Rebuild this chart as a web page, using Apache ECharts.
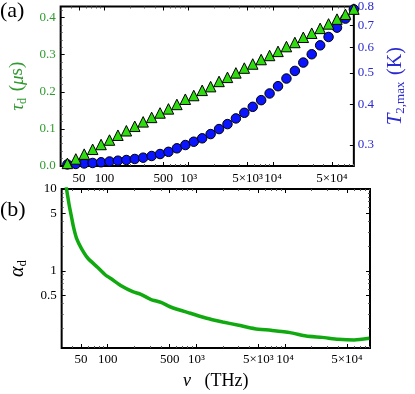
<!DOCTYPE html>
<html><head><meta charset="utf-8">
<script src="https://cdn.jsdelivr.net/npm/echarts@6/dist/echarts.min.js"></script>
<style>html,body{margin:0;padding:0;background:#fff}#c{width:415px;height:394px}</style>
</head><body><div id="c"></div>
<script>
// ---- data (frequency in THz) ----
const nu = [36.3,45.7,57.5,72.4,91.2,114.8,144.5,182,229,288,363,457,575,724,912,1148,1445,1820,2291,2884,3631,4571,5754,7244,9120,11482,14454,18197,22909,28840,36308,45709,57544,72444,91201];
const tauD = [0.007,0.019,0.032,0.045,0.058,0.070,0.083,0.095,0.107,0.119,0.131,0.143,0.154,0.166,0.180,0.190,0.204,0.214,0.228,0.239,0.251,0.264,0.275,0.287,0.298,0.309,0.322,0.333,0.347,0.358,0.371,0.383,0.396,0.409,0.423];
const t2max = [0.2615,0.2624,0.2633,0.2642,0.2655,0.2670,0.2685,0.2698,0.2718,0.2743,0.2776,0.2815,0.2859,0.2931,0.3000,0.3071,0.3146,0.3242,0.3359,0.3479,0.3622,0.3769,0.3932,0.4122,0.4322,0.4550,0.4804,0.5070,0.5379,0.5705,0.6077,0.6447,0.6888,0.7342,0.7839];
const alphaNu = [34.0,36.7,38.3,41.0,44.5,50.4,59.7,76.6,94.3,111.5,143.3,191.5,236.4,303.5,405.8,521,859.6,1306,1984,3005,4563,6933,11440,17330,26320,39970,60550,89720];
const alphaD = [10.6,6.38,5.05,3.47,2.50,1.89,1.43,1.11,0.894,0.792,0.656,0.559,0.520,0.452,0.411,0.361,0.305,0.265,0.239,0.218,0.198,0.189,0.177,0.161,0.155,0.147,0.144,0.151];

// ---- ticks ----
const xTickValues = [50,100,500,1000,5000,10000,50000];
const xTickLabels = ['50','100','500','10³','5×10³','10⁴','5×10⁴'];
const xMinorValues = [40,60,70,80,90,200,300,400,600,700,800,900,2000,3000,4000,6000,7000,8000,9000,20000,30000,40000,60000,70000,80000,90000];
const tauTicks = [0,0.1,0.2,0.3,0.4];
const t2Ticks = [0.3,0.4,0.5,0.6,0.7,0.8];
const t2TickLabels = ['0.3','0.4','0.5','0.6','0.7','0.8'];
const alphaTicks = [0.5,1,5,10];
const alphaTickLabels = ['0.5','1','5','10'];
const alphaMinor = [0.2,0.3,0.4,0.6,0.7,0.8,0.9,2,3,4,6,7,8,9];

const X_MIN = 30.2, X_MAX = 91201;
const TAU_MIN = 0, TAU_MAX = 0.43;
const T2_MIN = 0.2586, T2_MAX = 0.8;
const A_MIN = 0.115, A_MAX = 10;

const L = Math.log10;
const FONT = 'Liberation Serif';
const GREEN_TXT = '#2f9a2f', BLUE_TXT = '#2a2ad0';

function lab(vals, labels){
  return function(v){
    for (let i=0;i<vals.length;i++){ if (Math.abs(L(vals[i])-v) < 1e-6) return labels[i]; }
    return '';
  };
}
const xFmt = lab(xTickValues, xTickLabels);
const NOLINE = {show:false, onZero:false};

function xAxes(grid, withLabels, name){
  const base = {type:'value', gridIndex:grid, min:L(X_MIN), max:L(X_MAX),
    axisLine:NOLINE, splitLine:{show:false}};
  return [
    Object.assign({}, base, {position:'bottom',
      axisTick:{show:true, inside:true, length:4, customValues:xTickValues.map(L), lineStyle:{color:'#000'}},
      axisLabel:{show:withLabels, customValues:xTickValues.map(L), formatter:xFmt, margin:grid===0?6:5,
        fontFamily:FONT, fontSize:13, color:'#000'},
      name:name||'', nameLocation:'middle', nameGap:24,
      nameTextStyle:{fontFamily:FONT, fontSize:18, color:'#000',
        rich:{i:{fontFamily:FONT, fontStyle:'italic', fontSize:18}, n:{fontFamily:FONT, fontSize:18}}}}),
    Object.assign({}, base, {position:'bottom',
      axisTick:{show:true, inside:true, length:2, customValues:xMinorValues.map(L), lineStyle:{color:'#555'}},
      axisLabel:{show:false}}),
    Object.assign({}, base, {position:'top',
      axisTick:{show:true, inside:true, length:4, customValues:xTickValues.map(L), lineStyle:{color:'#000'}},
      axisLabel:{show:false}}),
    Object.assign({}, base, {position:'top',
      axisTick:{show:true, inside:true, length:2, customValues:xMinorValues.map(L), lineStyle:{color:'#555'}},
      axisLabel:{show:false}})
  ];
}

const chart = echarts.init(document.getElementById('c'), null, {renderer:'canvas'});
chart.setOption({
  animation:false,
  backgroundColor:'#fff',
  grid:[
    {left:50, top:6, width:320, height:160, show:true, borderColor:'#000', borderWidth:2, backgroundColor:'transparent'},
    {left:50, top:189, width:320, height:159, show:true, borderColor:'#000', borderWidth:2, backgroundColor:'transparent'}
  ],
  xAxis: [].concat(xAxes(0,true), xAxes(1,true,'{i|ν}   {n|(THz)}')),
  yAxis:[
    {type:'value', gridIndex:0, position:'left', min:TAU_MIN, max:TAU_MAX, interval:0.1,
      axisLine:NOLINE, splitLine:{show:false},
      axisTick:{show:true, inside:true, length:4, lineStyle:{color:'#000'}},
      minorTick:{show:true, splitNumber:5, length:2, lineStyle:{color:'#555'}},
      axisLabel:{fontFamily:FONT, fontSize:13, color:GREEN_TXT, margin:5,
        formatter:function(v){return v.toFixed(1);}},
      name:'{t|τ}{s|d}  {n|(}{t|μ}{n|s)}', nameLocation:'middle', nameRotate:90, nameGap:29,
      nameTextStyle:{color:GREEN_TXT, rich:{
        t:{fontFamily:FONT, fontStyle:'italic', fontSize:19, color:GREEN_TXT},
        n:{fontFamily:FONT, fontSize:19, color:GREEN_TXT},
        s:{fontFamily:FONT, fontSize:12, color:GREEN_TXT, padding:[10,0,0,0]}}}},
    {type:'value', gridIndex:0, position:'right', min:L(T2_MIN), max:L(T2_MAX),
      axisLine:NOLINE, splitLine:{show:false},
      axisTick:{show:true, inside:true, length:4, customValues:t2Ticks.map(L), lineStyle:{color:'#000'}},
      axisLabel:{customValues:t2Ticks.map(L), formatter:lab(t2Ticks,t2TickLabels),
        fontFamily:FONT, fontSize:13, color:BLUE_TXT, margin:4},
      name:'{t|T}{s|2,max}  {n|(K)}', nameLocation:'middle', nameRotate:90, nameGap:30,
      nameTextStyle:{color:BLUE_TXT, rich:{
        t:{fontFamily:FONT, fontStyle:'italic', fontSize:21, color:BLUE_TXT},
        n:{fontFamily:FONT, fontSize:20, color:BLUE_TXT},
        s:{fontFamily:FONT, fontSize:13, color:BLUE_TXT, padding:[10,0,0,0]}}}},
    {type:'value', gridIndex:1, position:'left', min:L(A_MIN), max:L(A_MAX),
      axisLine:NOLINE, splitLine:{show:false},
      axisTick:{show:true, inside:true, length:4, customValues:alphaTicks.map(L), lineStyle:{color:'#000'}},
      axisLabel:{customValues:alphaTicks.map(L), formatter:lab(alphaTicks,alphaTickLabels),
        fontFamily:FONT, fontSize:13, color:'#000', margin:5},
      name:'{t|α}{s|d}', nameLocation:'middle', nameRotate:90, nameGap:30,
      nameTextStyle:{rich:{
        t:{fontFamily:FONT, fontStyle:'italic', fontSize:20, color:'#000'},
        s:{fontFamily:FONT, fontSize:13, color:'#000', padding:[10,0,0,0]}}}},
    {type:'value', gridIndex:1, position:'left', min:L(A_MIN), max:L(A_MAX),
      axisLine:NOLINE, splitLine:{show:false},
      axisTick:{show:true, inside:true, length:2, customValues:alphaMinor.map(L), lineStyle:{color:'#555'}},
      axisLabel:{show:false}},
    {type:'value', gridIndex:1, position:'right', min:L(A_MIN), max:L(A_MAX),
      axisLine:NOLINE, splitLine:{show:false},
      axisTick:{show:true, inside:true, length:4, customValues:alphaTicks.map(L), lineStyle:{color:'#000'}},
      axisLabel:{show:false}},
    {type:'value', gridIndex:1, position:'right', min:L(A_MIN), max:L(A_MAX),
      axisLine:NOLINE, splitLine:{show:false},
      axisTick:{show:true, inside:true, length:2, customValues:alphaMinor.map(L), lineStyle:{color:'#555'}},
      axisLabel:{show:false}}
  ],
  series:[
    {type:'scatter', xAxisIndex:0, yAxisIndex:1, symbol:'circle', symbolSize:9.5, z:3,
      itemStyle:{color:'#0a14ff', borderColor:'#000', borderWidth:1, opacity:1},
      data: nu.map((x,i)=>[L(x), L(t2max[i])])},
    {type:'scatter', xAxisIndex:0, yAxisIndex:0, symbol:'triangle', symbolSize:10.5, z:4,
      itemStyle:{color:'#2fdc0f', borderColor:'#000', borderWidth:1, opacity:1},
      data: nu.map((x,i)=>[L(x), tauD[i]])},
    {type:'line', xAxisIndex:4, yAxisIndex:2, showSymbol:false, smooth:0.2, clip:true,
      lineStyle:{color:'#10aa10', width:3.5},
      data: alphaNu.map((x,i)=>[L(x), L(alphaD[i])])}
  ],
  graphic:[
    {type:'text', left:0, top:0, style:{text:'(a)', font:'22px "Liberation Serif"', fill:'#000'}},
    {type:'text', left:0, top:199, style:{text:'(b)', font:'22px "Liberation Serif"', fill:'#000'}}
  ]
});
</script>
</body></html>
